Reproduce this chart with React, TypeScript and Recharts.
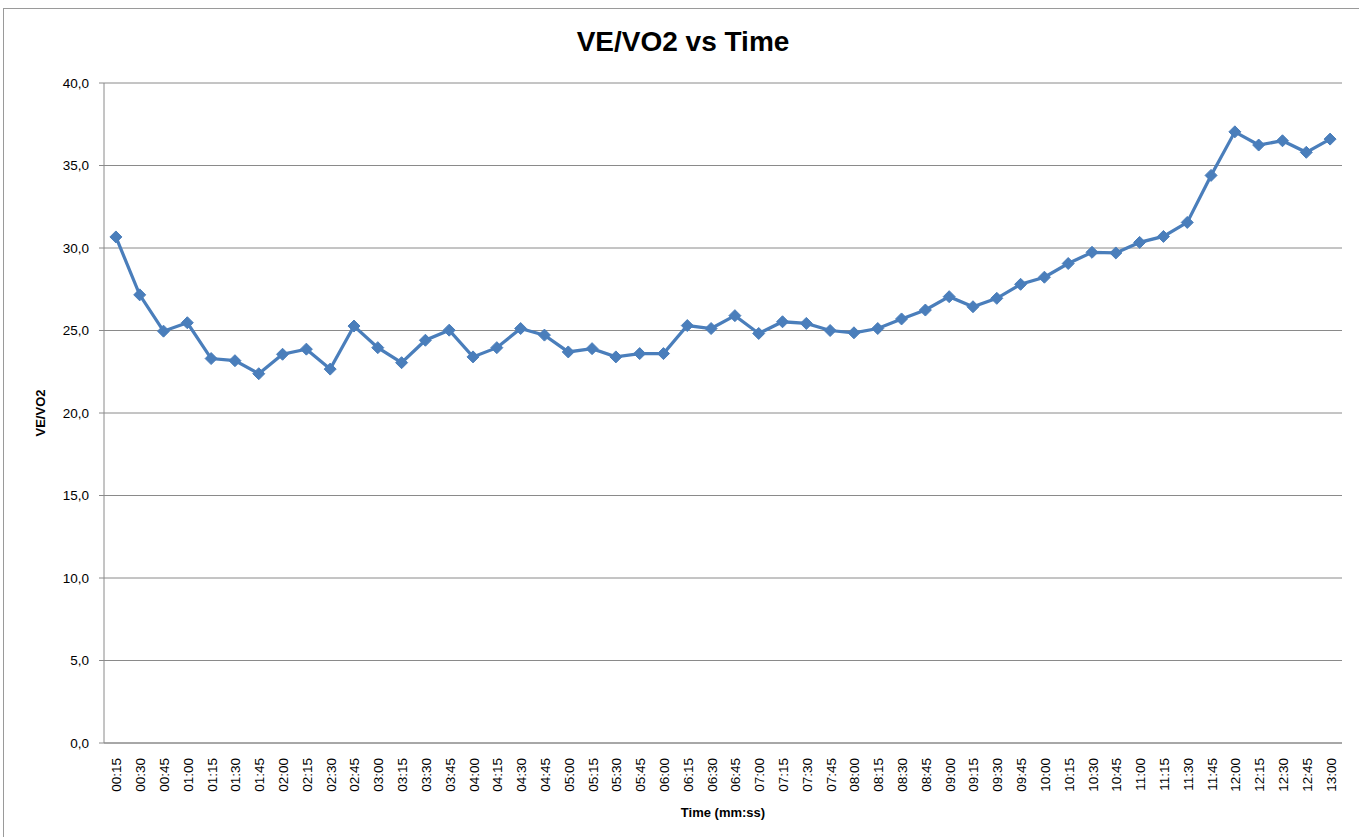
import { LineChart, Line, XAxis, YAxis, CartesianGrid } from 'recharts';

const times = [
  "00:15", "00:30", "00:45", "01:00", "01:15", "01:30", "01:45", "02:00", "02:15", "02:30",
  "02:45", "03:00", "03:15", "03:30", "03:45", "04:00", "04:15", "04:30", "04:45", "05:00",
  "05:15", "05:30", "05:45", "06:00", "06:15", "06:30", "06:45", "07:00", "07:15", "07:30",
  "07:45", "08:00", "08:15", "08:30", "08:45", "09:00", "09:15", "09:30", "09:45", "10:00",
  "10:15", "10:30", "10:45", "11:00", "11:15", "11:30", "11:45", "12:00", "12:15", "12:30",
  "12:45", "13:00",
];

const veVo2 = [
  30.67, 27.16, 24.96, 25.47, 23.3, 23.17, 22.38, 23.56, 23.87, 22.66,
  25.27, 23.96, 23.05, 24.41, 25.02, 23.4, 23.96, 25.12, 24.72, 23.7,
  23.9, 23.4, 23.6, 23.6, 25.3, 25.12, 25.9, 24.82, 25.53, 25.43,
  25.0, 24.86, 25.12, 25.7, 26.24, 27.05, 26.44, 26.95, 27.8, 28.23,
  29.06, 29.74, 29.7, 30.34, 30.7, 31.55, 34.4, 37.04, 36.24, 36.5,
  35.8, 36.6,
];

const yTicks = [0, 5, 10, 15, 20, 25, 30, 35, 40];

const data = times.map((t, i) => ({ idx: i + 1, time: t, value: veVo2[i] }));
const labelTicks = times.map((_, i) => i + 1);
const boundaryTicks = [0, ...times.map((_, i) => i + 1)].map((v) => v + 0.5);

const FONT = '"Liberation Sans", Arial, sans-serif';
const BLUE = '#4A7EBB';
const GRID = '#8a8a8a';

const Diamond = (props: any) => {
  const { cx, cy } = props;
  if (cx == null || cy == null) return null;
  const r = 6;
  return (
    <polygon
      points={`${cx},${cy - r} ${cx + r},${cy} ${cx},${cy + r} ${cx - r},${cy}`}
      fill={BLUE}
      stroke={BLUE}
      strokeWidth={1}
    />
  );
};

const TimeTick = (props: any) => {
  const { x, y, payload } = props;
  const label = times[payload.value - 1] ?? '';
  return (
    <text
      transform={`translate(${x + 1},${y + 7}) rotate(-90)`}
      textAnchor="end"
      dominantBaseline="central"
      fontSize={13.5}
      fontFamily={FONT}
      fill="#000"
    >
      {label}
    </text>
  );
};

const App = () => {
  return (
    <div style={{ position: 'absolute', left: 0, top: 0, width: 1359, height: 837, background: '#fff', overflow: 'hidden' }}>
      <div
        style={{
          position: 'absolute', left: 3, top: 8, width: 1370, height: 850,
          border: '1.5px solid #9a9a9a', boxSizing: 'border-box',
        }}
      />
      <div
        style={{
          position: 'absolute', left: 0, top: 26, width: 1366, textAlign: 'center',
          fontFamily: FONT, fontWeight: 'bold', fontSize: 28, color: '#000',
        }}
      >
        VE/VO2 vs Time
      </div>
      <div style={{ position: 'absolute', left: 0, top: 0 }}>
        <LineChart
          width={1359}
          height={837}
          data={data}
          margin={{ top: 83, right: 17, left: 4, bottom: 14 }}
        >
          <CartesianGrid vertical={false} stroke={GRID} strokeWidth={1} />
          <XAxis
            dataKey="idx"
            type="number"
            domain={[0.5, 52.5]}
            ticks={labelTicks}
            interval={0}
            tick={<TimeTick />}
            tickLine={false}
            axisLine={{ stroke: GRID }}
            height={80}
            label={{
              value: 'Time (mm:ss)',
              position: 'insideBottom',
              offset: 6,
              style: { fontFamily: FONT, fontWeight: 'bold', fontSize: 13, fill: '#000' },
            }}
          />
          <XAxis
            xAxisId="bounds"
            dataKey="idx"
            type="number"
            domain={[0.5, 52.5]}
            ticks={boundaryTicks}
            interval={0}
            tick={false}
            tickSize={5}
            tickLine={{ stroke: GRID }}
            axisLine={false}
            height={0}
            orientation="bottom"
          />
          <YAxis
            type="number"
            domain={[0, 40]}
            ticks={yTicks}
            interval={0}
            width={100}
            tickSize={5}
            tickMargin={10}
            tickLine={{ stroke: GRID }}
            axisLine={{ stroke: GRID }}
            tickFormatter={(v: number) => v.toFixed(1).replace('.', ',')}
            tick={{ fontSize: 13.5, fontFamily: FONT, fill: '#000' }}
            label={{
              content: (p: any) => {
                const vb = p.viewBox || {};
                const cy = vb.y + vb.height / 2;
                return (
                  <text
                    transform={`translate(40,${cy}) rotate(-90)`}
                    textAnchor="middle"
                    dominantBaseline="central"
                    fontFamily={FONT}
                    fontWeight="bold"
                    fontSize={13}
                    fill="#000"
                  >
                    VE/VO2
                  </text>
                );
              },
            }}
          />
          <Line
            type="linear"
            dataKey="value"
            stroke={BLUE}
            strokeWidth={3.25}
            dot={<Diamond />}
            activeDot={false}
            isAnimationActive={false}
          />
        </LineChart>
      </div>
    </div>
  );
};

export default App;
